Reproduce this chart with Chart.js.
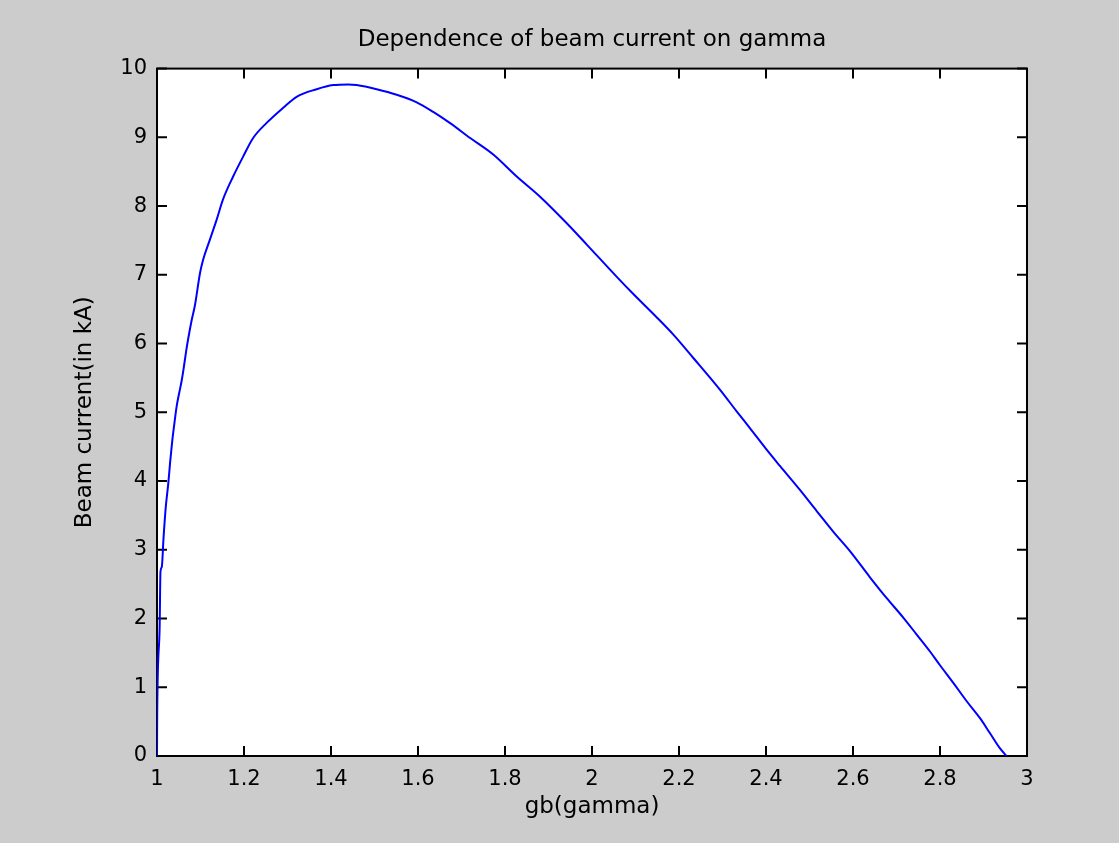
<!DOCTYPE html>
<html>
<head>
<meta charset="utf-8">
<title>Dependence of beam current on gamma</title>
<script src="https://cdn.jsdelivr.net/npm/chart.js@4/dist/chart.umd.min.js"></script>
<style>
  html, body { margin: 0; padding: 0; background: #cccccc; }
  #wrap { position: relative; width: 1119px; height: 843px; }
</style>
</head>
<body>
<div id="wrap"><canvas id="chart-beam"></canvas></div>
<script>
// values
var gamma = [1.000, 1.0005, 1.006, 1.008, 1.011, 1.015, 1.020, 1.026, 1.030, 1.035, 1.040, 1.045, 1.051, 1.057, 1.062, 1.068, 1.074, 1.080, 1.087, 1.099,
  1.106, 1.122, 1.137, 1.152, 1.175, 1.198, 1.221, 1.252, 1.290, 1.321, 1.367, 1.405, 1.440, 1.459, 1.505, 1.551, 1.597, 1.635, 1.673, 1.720,
  1.773, 1.827, 1.880, 1.942, 1.988, 2.057, 2.095, 2.149, 2.187, 2.233, 2.294, 2.333, 2.363, 2.401, 2.432, 2.478, 2.517, 2.555, 2.593, 2.639,
  2.677, 2.716, 2.746, 2.777, 2.800, 2.831, 2.861, 2.892, 2.915, 2.938, 2.953];
var beamCurrent = [0, 0.63, 1.85, 2.68, 2.75, 3.17, 3.61, 3.97, 4.26, 4.58, 4.84, 5.08, 5.28, 5.47, 5.67, 5.93, 6.15, 6.35, 6.55, 7.03,
  7.22, 7.52, 7.80, 8.10, 8.43, 8.72, 8.99, 9.21, 9.43, 9.59, 9.70, 9.76, 9.77, 9.76, 9.70, 9.62, 9.51, 9.37, 9.21, 8.99,
  8.75, 8.43, 8.14, 7.75, 7.44, 6.97, 6.72, 6.38, 6.13, 5.79, 5.33, 5.01, 4.77, 4.46, 4.22, 3.87, 3.56, 3.26, 2.98, 2.60,
  2.30, 2.01, 1.77, 1.52, 1.32, 1.06, 0.80, 0.55, 0.33, 0.11, 0];

var xTicks = [1, 1.2, 1.4, 1.6, 1.8, 2, 2.2, 2.4, 2.6, 2.8, 3];
var yTicks = [0, 1, 2, 3, 4, 5, 6, 7, 8, 9, 10];

var FONT = 'DejaVu Sans';

// grey figure, white axes, box and inward ticks on all four sides
var matlabFrame = {
  id: 'matlabFrame',
  afterLayout: function(chart) {
    // centre the title over the axes, not over the whole canvas
    if (chart.titleBlock) {
      chart.titleBlock.left = chart.chartArea.left;
      chart.titleBlock.right = chart.chartArea.right;
    }
  },
  beforeDraw: function(chart) {
    var ctx = chart.ctx, a = chart.chartArea;
    ctx.save();
    ctx.fillStyle = '#cccccc';
    ctx.fillRect(0, 0, chart.width, chart.height);
    ctx.fillStyle = '#ffffff';
    ctx.fillRect(a.left, a.top, a.right - a.left, a.bottom - a.top);
    ctx.restore();
  },
  beforeDatasetsDraw: function(chart) {
    var ctx = chart.ctx, a = chart.chartArea;
    var xs = chart.scales.x, ys = chart.scales.y;
    var len = 10;
    ctx.save();
    ctx.strokeStyle = '#000000';
    ctx.lineWidth = 2;
    ctx.strokeRect(a.left, a.top, a.right - a.left, a.bottom - a.top);
    ctx.beginPath();
    xTicks.forEach(function(v) {
      var px = xs.getPixelForValue(v);
      ctx.moveTo(px, a.bottom); ctx.lineTo(px, a.bottom - len);
      ctx.moveTo(px, a.top); ctx.lineTo(px, a.top + len);
    });
    yTicks.forEach(function(v) {
      var py = ys.getPixelForValue(v);
      ctx.moveTo(a.left, py); ctx.lineTo(a.left + len, py);
      ctx.moveTo(a.right, py); ctx.lineTo(a.right - len, py);
    });
    ctx.stroke();
    ctx.restore();
  }
};

var ctx = document.getElementById('chart-beam').getContext('2d');
var beamChart = new Chart(ctx, {
  type: 'line',
  data: {
    datasets: [{
      label: 'Beam current',
      data: gamma.map(function(g, i) { return { x: g, y: beamCurrent[i] }; }),
      borderColor: '#0000ff',
      borderWidth: 2,
      pointRadius: 0,
      fill: false,
      cubicInterpolationMode: 'monotone'
    }]
  },
  options: {
    responsive: true,
    maintainAspectRatio: false,
    animation: false,
    layout: { padding: { left: 0, right: 92, top: 0, bottom: 0 } },
    plugins: {
      legend: { display: false },
      tooltip: { enabled: false },
      title: {
        display: true,
        text: 'Dependence of beam current on gamma',
        color: '#000000',
        font: { family: FONT, size: 23, weight: 'normal' },
        padding: { top: 26, bottom: 15 }
      }
    },
    scales: {
      x: {
        type: 'linear',
        min: 1,
        max: 3,
        afterBuildTicks: function(scale) {
          scale.ticks = xTicks.map(function(v) { return { value: v }; });
        },
        afterFit: function(scale) { scale.height = 87; },
        grid: { display: false, drawTicks: false },
        border: { display: false },
        ticks: {
          color: '#000000',
          padding: 11,
          maxRotation: 0,
          autoSkip: false,
          font: { family: FONT, size: 21 },
          callback: function(v) { return String(Math.round(v * 10) / 10); }
        },
        title: {
          display: true,
          text: 'gb(gamma)',
          color: '#000000',
          font: { family: FONT, size: 23 },
          padding: { top: 0, bottom: 22 }
        }
      },
      y: {
        type: 'linear',
        min: 0,
        max: 10,
        afterBuildTicks: function(scale) {
          scale.ticks = yTicks.map(function(v) { return { value: v }; });
        },
        afterFit: function(scale) { scale.width = 157; },
        grid: { display: false, drawTicks: false },
        border: { display: false },
        ticks: {
          color: '#000000',
          padding: 10,
          autoSkip: false,
          font: { family: FONT, size: 21 }
        },
        title: {
          display: true,
          text: 'Beam current(in kA)',
          color: '#000000',
          font: { family: FONT, size: 23 },
          padding: { top: 71, bottom: 0 }
        }
      }
    }
  },
  plugins: [matlabFrame]
});
</script>
</body>
</html>
